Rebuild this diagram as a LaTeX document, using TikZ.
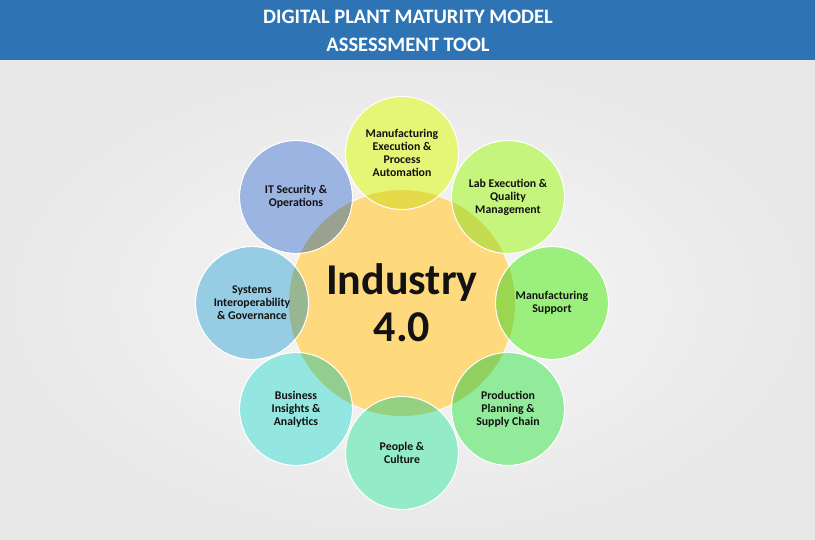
\documentclass[tikz,border=0pt]{standalone}
\usepackage{fontspec}
\setmainfont{Carlito}
\usepackage{xcolor}
\usepackage{tikz}
\usetikzlibrary{positioning}

\definecolor{hdrblue}{RGB}{46,116,181}
\definecolor{ink}{RGB}{18,18,18}
\definecolor{corefill}{RGB}{255,217,125}
\definecolor{mexfill}{RGB}{229,245,117}
\definecolor{labfill}{RGB}{197,245,125}
\definecolor{msupfill}{RGB}{155,240,125}
\definecolor{ppscfill}{RGB}{145,235,155}
\definecolor{pplfill}{RGB}{148,235,200}
\definecolor{biafill}{RGB}{148,230,225}
\definecolor{sigfill}{RGB}{150,205,228}
\definecolor{itsfill}{RGB}{155,180,225}

\begin{document}
\begin{tikzpicture}[x=1pt,y=1pt,
 area/.style={circle,draw=white,line width=0.8pt,minimum size=113pt,inner sep=0pt,align=center,text=ink,font=\bfseries\fontsize{11.8}{13}\selectfont},
 hub/.style={circle,draw=white,line width=0.8pt,fill=corefill,minimum size=226pt,inner sep=0pt,align=center,text=ink,font=\bfseries\fontsize{44}{47}\selectfont}]
\useasboundingbox (0,0) rectangle (815,540);
% backdrop and header band
\shade[inner color=white!97!black,outer color=white!91!black] (0,0) rectangle (815,480);
\fill[hdrblue] (0,480) rectangle (815,540);
\node[text=white,align=center,font=\bfseries\fontsize{20.5}{28}\selectfont] (title) at (408,509) {DIGITAL PLANT MATURITY MODEL\\ ASSESSMENT TOOL};
% centre and the eight areas
\node[hub] (core) at (402,237) {Industry\\ 4.0};
\node[area,fill=mexfill] (mex) at (402,387) {Manufacturing\\ Execution \&\\ Process\\ Automation};
\node[area,fill=labfill] (lab) at (508,343) {Lab Execution \&\\ Quality\\ Management};
\node[area,fill=msupfill] (msup) at (552,237) {Manufacturing\\ Support};
\node[area,fill=ppscfill] (ppsc) at (508,131) {Production\\ Planning \&\\ Supply Chain};
\node[area,fill=pplfill] (ppl) at (402,87) {People \&\\ Culture};
\node[area,fill=biafill] (bia) at (296,131) {Business\\ Insights \&\\ Analytics};
\node[area,fill=sigfill] (sig) at (252,237) {Systems\\ Interoperability\\ \& Governance};
\node[area,fill=itsfill] (its) at (296,343) {IT Security \&\\ Operations};
% darker lenses where the areas overlap the centre
\begin{scope}
\clip (core) circle (113pt);
\fill[corefill,blend mode=multiply,fill opacity=0.7] (mex) circle (56.5pt) (lab) circle (56.5pt) (msup) circle (56.5pt) (ppsc) circle (56.5pt) (ppl) circle (56.5pt) (bia) circle (56.5pt) (sig) circle (56.5pt) (its) circle (56.5pt);
\end{scope}
\draw[white,line width=0.8pt] (mex) circle (56.5pt) (lab) circle (56.5pt) (msup) circle (56.5pt) (ppsc) circle (56.5pt) (ppl) circle (56.5pt) (bia) circle (56.5pt) (sig) circle (56.5pt) (its) circle (56.5pt);
\end{tikzpicture}
\end{document}
